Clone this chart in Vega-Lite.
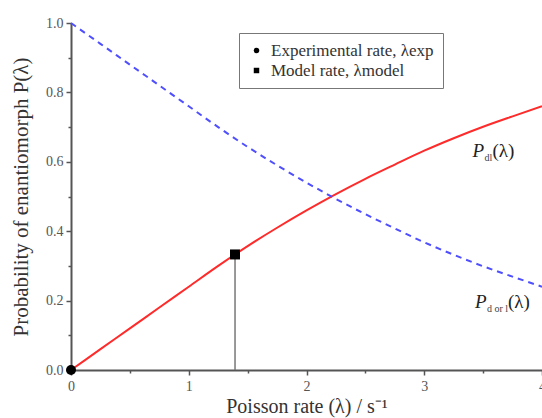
{
  "$schema": "https://vega.github.io/schema/vega-lite/v6.json",
  "width": 471,
  "height": 347,
  "autosize": {"type": "none"},
  "padding": {"left": 71, "top": 23, "right": 0, "bottom": 48},
  "background": "white",
  "config": {
    "view": {"stroke": null},
    "font": "Liberation Serif",
    "axis": {
      "grid": false,
      "titleFont": "Liberation Serif",
      "titleFontWeight": "normal",
      "titleColor": "#333",
      "labelFont": "Liberation Serif",
      "labelFontSize": 14,
      "labelColor": "#555",
      "domainColor": "#555",
      "domainWidth": 2,
      "tickColor": "#555",
      "tickWidth": 1.5,
      "tickSize": 5
    },
    "legend": {
      "strokeColor": "#777",
      "fillColor": "white",
      "padding": 9,
      "labelFont": "Liberation Serif",
      "labelFontSize": 17,
      "labelColor": "#333",
      "labelLimit": 0,
      "symbolSize": 30,
      "symbolFillColor": "black",
      "symbolStrokeColor": "black",
      "symbolStrokeWidth": 0,
      "rowPadding": 2,
      "labelOffset": 6
    }
  },
  "datasets": {
    "curves": [
      {"lambda": 0, "P": 0, "series": "dl"},
      {"lambda": 0.25, "P": 0.060, "series": "dl"},
      {"lambda": 0.5, "P": 0.120, "series": "dl"},
      {"lambda": 0.75, "P": 0.180, "series": "dl"},
      {"lambda": 1.0, "P": 0.240, "series": "dl"},
      {"lambda": 1.25, "P": 0.300, "series": "dl"},
      {"lambda": 1.5, "P": 0.357, "series": "dl"},
      {"lambda": 1.75, "P": 0.410, "series": "dl"},
      {"lambda": 2.0, "P": 0.460, "series": "dl"},
      {"lambda": 2.25, "P": 0.507, "series": "dl"},
      {"lambda": 2.5, "P": 0.551, "series": "dl"},
      {"lambda": 2.75, "P": 0.592, "series": "dl"},
      {"lambda": 3.0, "P": 0.632, "series": "dl"},
      {"lambda": 3.25, "P": 0.668, "series": "dl"},
      {"lambda": 3.5, "P": 0.701, "series": "dl"},
      {"lambda": 3.75, "P": 0.731, "series": "dl"},
      {"lambda": 4.0, "P": 0.760, "series": "dl"},
      {"lambda": 0, "P": 1.0, "series": "dorl"},
      {"lambda": 0.25, "P": 0.940, "series": "dorl"},
      {"lambda": 0.5, "P": 0.880, "series": "dorl"},
      {"lambda": 0.75, "P": 0.820, "series": "dorl"},
      {"lambda": 1.0, "P": 0.760, "series": "dorl"},
      {"lambda": 1.25, "P": 0.700, "series": "dorl"},
      {"lambda": 1.5, "P": 0.643, "series": "dorl"},
      {"lambda": 1.75, "P": 0.590, "series": "dorl"},
      {"lambda": 2.0, "P": 0.540, "series": "dorl"},
      {"lambda": 2.25, "P": 0.493, "series": "dorl"},
      {"lambda": 2.5, "P": 0.449, "series": "dorl"},
      {"lambda": 2.75, "P": 0.408, "series": "dorl"},
      {"lambda": 3.0, "P": 0.368, "series": "dorl"},
      {"lambda": 3.25, "P": 0.332, "series": "dorl"},
      {"lambda": 3.5, "P": 0.299, "series": "dorl"},
      {"lambda": 3.75, "P": 0.269, "series": "dorl"},
      {"lambda": 4.0, "P": 0.240, "series": "dorl"}
    ],
    "points": [
      {"lambda": 0, "P": 0, "kind": "Experimental rate, λexp"},
      {"lambda": 1.393, "P": 0.333, "kind": "Model rate, λmodel"}
    ],
    "labels": [
      {"lambda": 3.41, "P": 0.614, "id": "dl", "sub": "dl"},
      {"lambda": 3.43, "P": 0.179, "id": "dorl", "sub": "d or l"}
    ]
  },
  "encoding": {
    "x": {
      "field": "lambda", "type": "quantitative",
      "scale": {"domain": [0, 4], "nice": false, "zero": false},
      "axis": {
        "values": [0, 0.5, 1, 1.5, 2, 2.5, 3, 3.5, 4],
        "labelExpr": "datum.value % 1 == 0 ? format(datum.value, 'd') : ''",
        "title": "Poisson rate (λ) / s⁻¹",
        "titleFontSize": 20,
        "titlePadding": 3,
        "labelPadding": 4,
        "labelFlush": false,
        "tickSize": {"condition": {"test": "datum.value % 1 == 0", "value": 5}, "value": 3}
      }
    },
    "y": {
      "field": "P", "type": "quantitative",
      "scale": {"domain": [0, 1], "nice": false},
      "axis": {
        "values": [0, 0.1, 0.2, 0.3, 0.4, 0.5, 0.6, 0.7, 0.8, 0.9, 1.0],
        "labelExpr": "round(datum.value * 10) % 2 == 0 ? format(datum.value, '.1f') : ''",
        "title": "Probability of enantiomorph P(λ)",
        "titleFontSize": 21,
        "titlePadding": 14,
        "labelPadding": 3,
        "tickSize": {"condition": {"test": "round(datum.value * 10) % 2 == 0", "value": 5}, "value": 3}
      }
    }
  },
  "layer": [
    {
      "data": {"name": "curves"},
      "transform": [{"filter": "datum.series == 'dl'"}],
      "mark": {"type": "line", "color": "#ff2a2a", "strokeWidth": 2, "interpolate": "monotone"}
    },
    {
      "data": {"name": "curves"},
      "transform": [{"filter": "datum.series == 'dorl'"}],
      "mark": {"type": "line", "color": "#4f4fff", "strokeWidth": 2, "strokeDash": [6, 5], "interpolate": "monotone"}
    },
    {
      "data": {"name": "points"},
      "transform": [{"filter": "datum.lambda > 0"}],
      "mark": {"type": "rule", "color": "#777", "strokeWidth": 1.5},
      "encoding": {
        "y2": {"datum": 0}
      }
    },
    {
      "data": {"name": "points"},
      "mark": {"type": "point", "filled": true, "color": "black", "opacity": 1, "size": 100, "clip": false},
      "encoding": {
        "shape": {
          "field": "kind", "type": "nominal",
          "scale": {"domain": ["Experimental rate, λexp", "Model rate, λmodel"], "range": ["circle", "square"]},
          "legend": {"title": null, "orient": "none", "legendX": 168, "legendY": 10}
        }
      }
    },
    {
      "data": {"name": "labels"},
      "mark": {"type": "text", "align": "left", "baseline": "alphabetic", "font": "Liberation Serif", "fontStyle": "italic", "fontSize": 19, "color": "#222"},
      "encoding": {
        "text": {"value": "P"}
      }
    },
    {
      "data": {"name": "labels"},
      "mark": {"type": "text", "align": "left", "baseline": "alphabetic", "font": "Liberation Serif", "fontSize": 10, "dx": 12, "dy": 4, "color": "#444"},
      "encoding": {
        "text": {"field": "sub"}
      }
    },
    {
      "data": {"name": "labels"},
      "transform": [{"filter": "datum.id == 'dl'"}],
      "mark": {"type": "text", "align": "left", "baseline": "alphabetic", "font": "Liberation Serif", "fontSize": 19, "dx": 20, "color": "#222"},
      "encoding": {
        "text": {"value": "(λ)"}
      }
    },
    {
      "data": {"name": "labels"},
      "transform": [{"filter": "datum.id == 'dorl'"}],
      "mark": {"type": "text", "align": "left", "baseline": "alphabetic", "font": "Liberation Serif", "fontSize": 19, "dx": 33, "color": "#222"},
      "encoding": {
        "text": {"value": "(λ)"}
      }
    }
  ]
}
